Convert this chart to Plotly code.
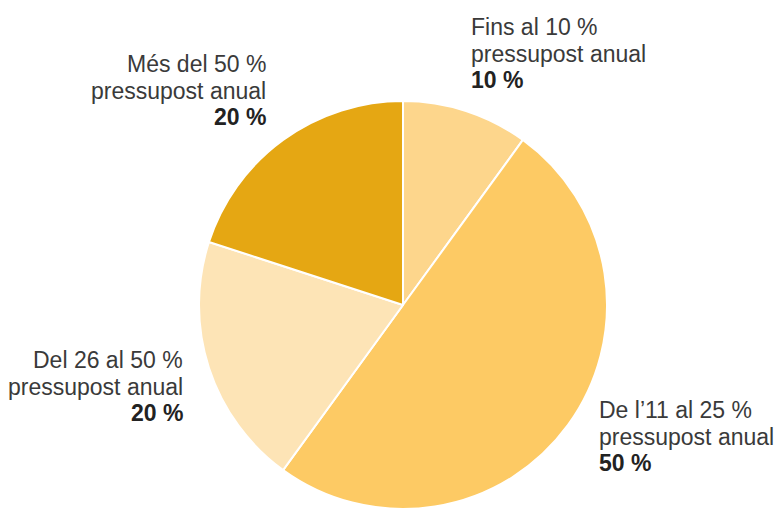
import plotly.graph_objects as go

categories = ["Fins al 10 %", "De l’11 al 25 %", "Del 26 al 50 %", "Més del 50 %"]
subtitle = "pressupost anual"
values = [10, 50, 20, 20]
value_labels = ["10 %", "50 %", "20 %", "20 %"]
colors = ["#FDD68C", "#FDCA64", "#FDE4B6", "#E5A713"]

OFF = 8  # page offset of the figure inside the browser window
W, H = 783 - OFF, 509 - OFF

cx, cy = 403 - OFF, 305 - OFF
r = min(206, H - cy)
fig = go.Figure(go.Pie(
    labels=categories,
    values=values,
    sort=False,
    direction="clockwise",
    rotation=0,
    marker=dict(colors=colors, line=dict(color="white", width=2)),
    textinfo="none",
    hoverinfo="label+percent",
    showlegend=False,
    domain=dict(x=[(cx - r) / W, (cx + r) / W],
                y=[max(0, (H - cy - r) / H), (H - cy + r) / H]),
))

# label placement: (x anchor px, xanchor, first baseline px) in window coords
placements = [
    (470, "left", 35),
    (598, "left", 418),
    (184, "right", 368),
    (267, "right", 72),
]
line_gap = 26.7
fs = 23
for i, (xp, xa, b0) in enumerate(placements):
    lines = [categories[i], subtitle, "<b>" + value_labels[i] + "</b>"]
    for j, t in enumerate(lines):
        base = b0 + j * line_gap - OFF
        yc = base - 0.3465 * fs
        fig.add_annotation(
            x=(xp - OFF) / W, y=1 - yc / H, xref="paper", yref="paper",
            xanchor=xa, yanchor="middle", text=t, showarrow=False,
            align=xa, borderpad=0,
            font=dict(family="Liberation Sans, Arial, sans-serif", size=fs,
                      color="#222222" if j == 2 else "#3a3a3a"),
        )

fig.update_layout(
    width=W, height=H,
    margin=dict(l=0, r=0, t=0, b=0),
    paper_bgcolor="white", plot_bgcolor="white",
)

fig.write_html("out.html")
